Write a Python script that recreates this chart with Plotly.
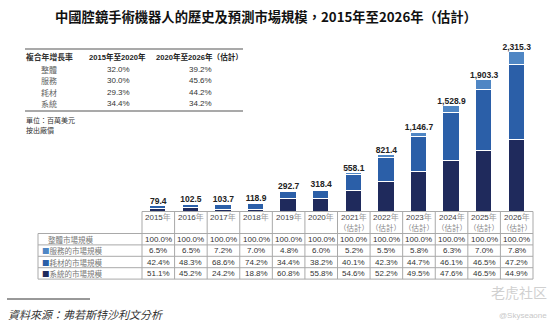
import plotly.graph_objects as go

W, H = 554, 325

# ---- data ----
years = ["2015", "2016", "2017", "2018", "2019", "2020",
         "2021", "2022", "2023", "2024", "2025", "2026"]
estimated = [False] * 6 + [True] * 6
totals = [79.4, 102.5, 103.7, 118.9, 292.7, 318.4,
          558.1, 821.4, 1146.7, 1528.9, 1903.3, 2315.3]
share_services = [6.5, 6.5, 7.2, 7.0, 4.8, 6.0, 5.2, 5.5, 5.8, 6.3, 7.0, 7.8]
share_consumables = [42.4, 48.3, 68.6, 74.2, 34.4, 38.2, 40.1, 42.3, 44.7, 46.1, 46.5, 47.2]
share_systems = [51.1, 45.2, 24.2, 18.8, 60.8, 55.8, 54.6, 52.2, 49.5, 47.6, 46.5, 44.9]

cagr_labels = ["整體", "服務", "耗材", "系統"]
cagr_2015_2020 = ["32.0%", "30.0%", "29.3%", "34.4%"]
cagr_2020_2026 = ["39.2%", "45.6%", "44.2%", "34.2%"]

row_labels = ["整體市場規模", "服務的市場規模", "耗材的市場規模", "系統的市場規模"]

C_SYS = "#1f2a5c"
C_CON = "#2b5fa8"
C_SER = "#4f86c4"
GRID = "#a9a9a9"

FONT = "Liberation Sans, Noto Sans CJK TC, sans-serif"
CJK = "Noto Sans CJK TC, sans-serif"


def px(x):
    return x / W


def py(y):
    return 1 - y / H


x_idx = list(range(len(years)))
sys_vals = [t * s / 100 for t, s in zip(totals, share_systems)]
con_vals = [t * s / 100 for t, s in zip(totals, share_consumables)]
ser_vals = [t * s / 100 for t, s in zip(totals, share_services)]

fig = go.Figure()
for vals, col in [(sys_vals, C_SYS), (con_vals, C_CON), (ser_vals, C_SER)]:
    fig.add_trace(go.Bar(x=x_idx, y=vals, width=0.5, marker=dict(color=col, line=dict(color="white", width=1)),
                         showlegend=False, hoverinfo="skip"))

fig.add_trace(go.Scatter(
    x=x_idx, y=totals, mode="text",
    text=[f"{t:,.1f}" for t in totals], textposition="top center",
    textfont=dict(family=FONT, size=8.5, color="#222222", weight="bold"),
    showlegend=False, hoverinfo="skip"))

# table geometry
COL_L, COL_R = 142, 533
col_w = (COL_R - COL_L) / len(years)
BASE = 211.5
Y_HDR = 233.5
ROW_H = 11.4
LBL_L = 38

fig.update_layout(
    width=W, height=H, margin=dict(l=0, r=0, t=0, b=0),
    paper_bgcolor="white", plot_bgcolor="white",
    barmode="stack", bargap=0,
    xaxis=dict(domain=[px(COL_L), px(COL_R)], range=[-0.5, len(years) - 0.5],
               visible=False, fixedrange=True),
    yaxis=dict(domain=[py(BASE), py(30)], range=[0, 2315.3 * (BASE - 30) / (BASE - 52)],
               visible=False, fixedrange=True),
)

shapes = []
ann = []


def line(x0, y0, x1, y1, color=GRID, width=1):
    shapes.append(dict(type="line", xref="paper", yref="paper",
                       x0=px(x0), y0=py(y0), x1=px(x1), y1=py(y1),
                       line=dict(color=color, width=width)))


def text(x, y, s, size=8, color="#333333", anchor="center", family=FONT, bold=False, italic=False):
    f = dict(family=family, size=size, color=color)
    if bold:
        f["weight"] = "bold"
    if italic:
        f["style"] = "italic"
    ann.append(dict(xref="paper", yref="paper", x=px(x), y=py(y), text=s, showarrow=False,
                    xanchor=anchor, yanchor="middle", font=f, borderpad=0))


# title
text(266, 17, "中國腔鏡手術機器人的歷史及預測市場規模，2015年至2026年（估計）",
     size=13.3, color="#111111", family=CJK, bold=True)

# CAGR table
line(25, 49, 243, 49, color="#555555", width=1.2)
line(25, 111, 243, 111, color="#555555", width=1.2)
text(25, 57, "複合年增長率", size=7.8, color="#333333", anchor="left", family=CJK, bold=True)
text(117, 57, "2015年至2020年", size=7.6, color="#222222", family=FONT, bold=True)
text(199, 57, "2020年至2026年（估計）", size=7.6, color="#222222", family=FONT, bold=True)
for i, lab in enumerate(cagr_labels):
    yy = 69 + i * 11.6
    text(49, yy, lab, size=8, color="#666666", family=CJK)
    text(118, yy, cagr_2015_2020[i], size=8, color="#333333")
    text(200, yy, cagr_2020_2026[i], size=8, color="#333333")
text(25, 119.5, "單位：百萬美元", size=7, color="#333333", anchor="left", family=CJK)
text(25, 130, "按出廠價", size=7, color="#333333", anchor="left", family=CJK)

# bottom data table
y_rows = [Y_HDR + ROW_H * k for k in range(5)]
line(COL_L, BASE, COL_R, BASE)
for yy in y_rows:
    line(LBL_L, yy, COL_R, yy)
line(LBL_L, Y_HDR, LBL_L, y_rows[-1])
for k in range(len(years) + 1):
    xx = COL_L + k * col_w
    line(xx, BASE, xx, y_rows[-1])

for i, yr in enumerate(years):
    cx = COL_L + (i + 0.5) * col_w
    text(cx, 216.5, f"{yr}<span style='color:#999999'>年</span>", size=8, color="#444444")
    if estimated[i]:
        text(cx, 227, "（估計）", size=7.5, color="#888888", family=CJK)

series_rows = [["100.0%"] * len(years),
               [f"{v:.1f}%" for v in share_services],
               [f"{v:.1f}%" for v in share_consumables],
               [f"{v:.1f}%" for v in share_systems]]
markers = [None, C_SER, C_CON, C_SYS]
for r in range(4):
    yy = Y_HDR + ROW_H * (r + 0.5)
    if markers[r] is None:
        text(47, yy, row_labels[r], size=7.5, color="#777777", anchor="left", family=CJK)
    else:
        text(41, yy, f"<span style='color:{markers[r]}'>■</span>{row_labels[r]}",
             size=7.5, color="#777777", anchor="left", family=CJK)
    for i in range(len(years)):
        cx = COL_L + (i + 0.5) * col_w
        text(cx, yy, series_rows[r][i], size=8, color="#333333")

# source note
line(7, 299, 90, 299, color="#333333", width=1)
text(7, 314, "資料來源：弗若斯特沙利文分析", size=11, color="#333333", anchor="left", family=CJK, italic=True)

# watermark
text(548, 292, "老虎社区", size=14, color="#d0d0d0", anchor="right", family=CJK)
text(548, 315, "@Skyseaone", size=8, color="#c8c8c8", anchor="right")

fig.update_layout(shapes=shapes, annotations=ann)
fig.write_html("out.html")
